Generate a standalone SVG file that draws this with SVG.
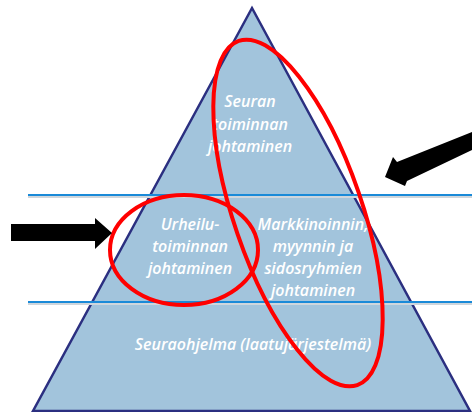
<svg xmlns="http://www.w3.org/2000/svg" width="472" height="412" viewBox="0 0 472 412">
<style>
.t{font-family:"Open Sans","Liberation Sans",sans-serif;font-style:italic;font-weight:600;font-size:16px;fill:#ffffff;text-anchor:middle}
.band{stroke:#1a8ad8;stroke-width:2;fill:none}
.red{fill:none;stroke:#ff0000;stroke-width:4}
</style>
<rect width="472" height="412" fill="#ffffff"/>
<g id="pyramid">
<polygon points="252,8 470,411 33,411" fill="#a2c4dc" stroke="#2b2f80" stroke-width="2.5"/>
</g>
<g id="bands">
<line x1="28" y1="197" x2="472" y2="197" stroke="#cfd6dc" stroke-width="2"/>
<line x1="28" y1="195" x2="472" y2="195" class="band"/>
<line x1="28" y1="304" x2="472" y2="304" stroke="#cfd6dc" stroke-width="2"/>
<line x1="28" y1="302" x2="472" y2="302" class="band"/>
</g>
<g id="top-text">
<text class="t" x="250" y="107">Seuran</text>
<text class="t" x="250" y="130">toiminnan</text>
<text class="t" x="250" y="152">johtaminen</text>
</g>
<g id="urheilu">
<text class="t" x="190" y="230">Urheilu-</text>
<text class="t" x="190" y="252">toiminnan</text>
<text class="t" x="190" y="274">johtaminen</text>
</g>
<g id="markkinointi">
<text class="t" x="313" y="230">Markkinoinnin,</text>
<text class="t" x="313" y="252">myynnin ja</text>
<text class="t" x="313" y="274">sidosryhmien</text>
<text class="t" x="313" y="296">johtaminen</text>
</g>
<g id="seuraohjelma">
<text class="t" x="253" y="350">Seuraohjelma (laatujärjestelmä)</text>
</g>
<g id="highlights">
<ellipse class="red" cx="298" cy="213" rx="64" ry="182" transform="rotate(-19 298 213)"/>
<ellipse class="red" cx="184" cy="250" rx="74" ry="55"/>
</g>
<g id="connectors">
<polygon points="11,224 95,224 95,218 112,233 95,249 95,241 11,241" fill="#000"/>
<polygon points="472,132 472,150 407,181 405,186 385,177 393,157 397,162" fill="#000"/>
</g>
</svg>
